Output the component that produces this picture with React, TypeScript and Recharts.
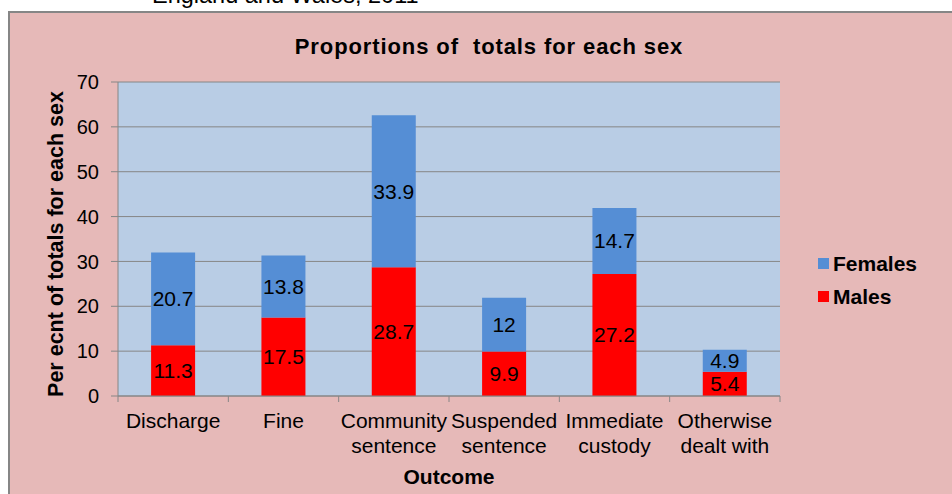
import React from 'react'
import {
  BarChart,
  Bar,
  XAxis,
  YAxis,
  CartesianGrid,
  LabelList,
  Legend,
} from 'recharts'

const outcomes = [
  'Discharge',
  'Fine',
  'Community sentence',
  'Suspended sentence',
  'Immediate custody',
  'Otherwise dealt with',
]
const malesPct = [11.3, 17.5, 28.7, 9.9, 27.2, 5.4]
const femalesPct = [20.7, 13.8, 33.9, 12, 14.7, 4.9]
const yTicks = [0, 10, 20, 30, 40, 50, 60, 70]
const legendOrder = ['Females', 'Males']

const data = outcomes.map((outcome, i) => ({
  outcome,
  males: malesPct[i],
  females: femalesPct[i],
}))

const FONT = '"Liberation Sans", Arial, Helvetica, sans-serif'
const GREY = '#868686'
const PINK = '#E6B9B8'
const PLOT_BG = '#B9CDE5'
const FEMALE = '#558ED5'
const MALE = '#FF0000'

// two-line category labels: first word, then the rest
const splitLabel = (s: string) => {
  const i = s.indexOf(' ')
  return i < 0 ? [s] : [s.slice(0, i), s.slice(i + 1)]
}

const CategoryTick = (props: any) => {
  const { x, y, payload, index, visibleTicksCount, width } = props
  const half = payload.offset || width / visibleTicksCount / 2
  const lines = splitLabel(String(payload.value))
  return (
    <g>
      <line x1={x - half} x2={x - half} y1={y - 6} y2={y} stroke={GREY} />
      {index === visibleTicksCount - 1 && (
        <line x1={x + half} x2={x + half} y1={y - 6} y2={y} stroke={GREY} />
      )}
      <text
        x={x}
        y={y + 26}
        textAnchor='middle'
        fill='#000'
        fontSize={21}
        fontFamily={FONT}>
        {lines.map((line, k) => (
          <tspan key={k} x={x} dy={k === 0 ? 0 : 25}>
            {line}
          </tspan>
        ))}
      </text>
    </g>
  )
}

const LegendBox = (props: any) => {
  const items = [...(props.payload || [])].sort(
    (a: any, b: any) =>
      legendOrder.indexOf(a.value) - legendOrder.indexOf(b.value)
  )
  return (
    <div style={{ fontFamily: FONT, fontWeight: 'bold', fontSize: 21 }}>
      {items.map((item: any) => (
        <div
          key={item.value}
          style={{ display: 'flex', alignItems: 'center', height: 33 }}>
          <span
            style={{
              display: 'inline-block',
              width: 11,
              height: 11,
              background: item.color,
              marginRight: 4,
            }}
          />
          <span>{item.value}</span>
        </div>
      ))}
    </div>
  )
}

export default function App() {
  return (
    <div
      style={{
        position: 'absolute',
        left: 0,
        top: 0,
        width: 952,
        height: 494,
        overflow: 'hidden',
        background: '#fff',
      }}>
      <div
        style={{
          position: 'absolute',
          left: 8,
          top: 11,
          width: 1000,
          height: 600,
          background: PINK,
          border: `2px solid ${GREY}`,
        }}
      />
      <div style={{ position: 'absolute', left: 0, top: 0 }}>
        <BarChart
          width={952}
          height={494}
          data={data}
          margin={{ top: 82, right: 172, left: 58, bottom: 38 }}
          barCategoryGap='30%'>
          <CartesianGrid
            vertical={false}
            stroke={GREY}
            fill={PLOT_BG}
            fillOpacity={1}
          />
          <XAxis
            dataKey='outcome'
            height={60}
            interval={0}
            tickSize={6}
            tickMargin={0}
            tickLine={false}
            axisLine={{ stroke: GREY }}
            tick={<CategoryTick />}
          />
          <YAxis
            domain={[0, 70]}
            ticks={yTicks}
            interval={0}
            width={60}
            tickSize={7}
            tickMargin={12}
            axisLine={{ stroke: GREY }}
            tickLine={{ stroke: GREY }}
            tick={{ fill: '#000', fontSize: 20, fontFamily: FONT }}
          />
          <Legend
            layout='vertical'
            align='center'
            verticalAlign='middle'
            content={<LegendBox />}
            wrapperStyle={{ left: 818, top: 247, width: 130 }}
          />
          <Bar
            dataKey='males'
            name='Males'
            stackId='a'
            fill={MALE}
            isAnimationActive={false}>
            <LabelList
              dataKey='males'
              position='center'
              fill='#000'
              stroke='none'
              fontSize={21}
              fontFamily={FONT}
            />
          </Bar>
          <Bar
            dataKey='females'
            name='Females'
            stackId='a'
            fill={FEMALE}
            isAnimationActive={false}>
            <LabelList
              dataKey='females'
              position='center'
              fill='#000'
              stroke='none'
              fontSize={21}
              fontFamily={FONT}
            />
          </Bar>
        </BarChart>
      </div>
      <svg
        width={952}
        height={494}
        style={{ position: 'absolute', left: 0, top: 0, pointerEvents: 'none' }}>
        <text x={152} y={3} fontSize={23.5} fontFamily={FONT} fill='#000'>
          England and Wales, 2011
        </text>
        <text
          x={489}
          y={54}
          textAnchor='middle'
          fontSize={22}
          fontWeight='bold'
          letterSpacing={0.9}
          fontFamily={FONT}
          fill='#000'
          style={{ whiteSpace: 'pre' }}>
          {'Proportions of  totals for each sex'}
        </text>
        <text
          transform='translate(63,244) rotate(-90)'
          textAnchor='middle'
          fontSize={21.5}
          fontWeight='bold'
          fontFamily={FONT}
          fill='#000'>
          Per ecnt of totals for each sex
        </text>
        <text
          x={449}
          y={484}
          textAnchor='middle'
          fontSize={21}
          fontWeight='bold'
          fontFamily={FONT}
          fill='#000'>
          Outcome
        </text>
      </svg>
    </div>
  )
}
